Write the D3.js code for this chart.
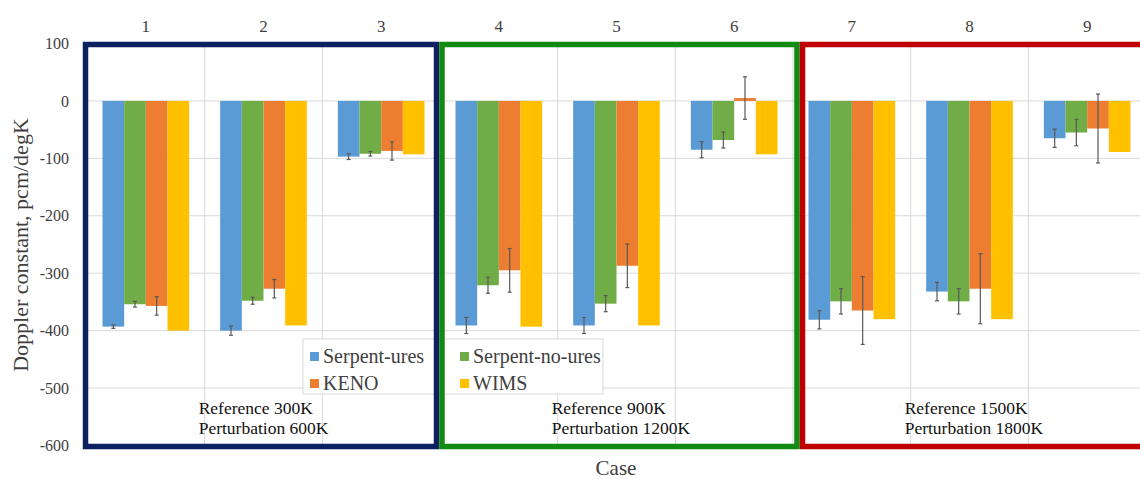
<!doctype html>
<html>
  <head>
    <meta charset="utf-8">
    <script src="https://d3js.org/d3.v7.min.js"></script>
    <style>
      body { margin: 0; background: #fff; }
      svg text { font-family: "Liberation Serif", "Times New Roman", serif !important; }
    </style>
  </head>
  <body>
    <div id="graphic"></div>
    <script>

// data
var cases = ["1", "2", "3", "4", "5", "6", "7", "8", "9"];
var seriesNames = ["Serpent-ures", "Serpent-no-ures", "KENO", "WIMS"];
var serpentUres   = [-393, -400, -97, -391, -391, -85, -381, -332, -65];
var serpentNoUres = [-354, -348, -92, -321, -353, -68, -349, -349, -55];
var keno          = [-357, -327, -87, -295, -287,   5, -365, -327, -48];
var wims          = [-400, -391, -93, -393, -391, -93, -380, -380, -89];
var errSerpentUres   = [3, 8, 5, 14, 14, 14, 16, 16, 16];
var errSerpentNoUres = [5, 6, 4, 14, 14, 14, 22, 22, 23];
var errKeno          = [16, 16, 16, 38, 38, 37, 59, 61, 60];
var yTicks = [100, 0, -100, -200, -300, -400, -500, -600];
var groupCases = [["1", "3"], ["4", "6"], ["7", "9"]];
var groupLabels = [
  ["Reference 300K", "Perturbation 600K"],
  ["Reference 900K", "Perturbation 1200K"],
  ["Reference 1500K", "Perturbation 1800K"]
];

var colors = ["#5b9bd5", "#70ad47", "#ed7d31", "#ffc000"];
var boxColors = ["#0c2260", "#108a10", "#c00000"];
var serif = "'Liberation Serif', 'Times New Roman', serif";

var values = [serpentUres, serpentNoUres, keno, wims];
var errors = [errSerpentUres, errSerpentNoUres, errKeno, null];

var rows = [];
cases.forEach(function (c, i) {
  seriesNames.forEach(function (s, j) {
    rows.push({ c: c, s: s, v: values[j][i], e: errors[j] ? errors[j][i] : null, k: j });
  });
});

var width = 1140, height = 479;

var svg = d3.select("#graphic").append("svg")
  .attr("width", width)
  .attr("height", height)
  .attr("font-family", serif);

var x0 = d3.scaleBand().domain(cases).range([87, 1146]);
var bw = x0.bandwidth();
var x1 = d3.scaleBand().domain(seriesNames).range([15.5, bw - 15.5]);
var y = d3.scaleLinear().domain([-600, 100]).range([445.5, 43.5]);

// gridlines
svg.append("g")
  .selectAll("line")
  .data(yTicks)
  .enter().append("line")
  .attr("x1", 87).attr("x2", 1146)
  .attr("y1", d => y(d)).attr("y2", d => y(d))
  .style("stroke", "#d9d9d9").style("stroke-width", "1px");

svg.append("g")
  .selectAll("line")
  .data(cases.slice(1))
  .enter().append("line")
  .attr("x1", d => x0(d)).attr("x2", d => x0(d))
  .attr("y1", y(100)).attr("y2", y(-600))
  .style("stroke", "#d9d9d9").style("stroke-width", "1px");

// bars
svg.append("g")
  .selectAll("rect")
  .data(rows)
  .enter().append("rect")
  .attr("x", d => x0(d.c) + x1(d.s))
  .attr("width", x1.bandwidth())
  .attr("y", d => y(Math.max(0, d.v)))
  .attr("height", d => Math.abs(y(d.v) - y(0)))
  .style("fill", d => colors[d.k]);

// error bars
var eb = svg.append("g")
  .selectAll("g")
  .data(rows.filter(d => d.e != null))
  .enter().append("g")
  .attr("transform", d => "translate(" + (x0(d.c) + x1(d.s) + x1.bandwidth() / 2) + ",0)");

eb.append("line")
  .attr("y1", d => y(d.v + d.e)).attr("y2", d => y(d.v - d.e))
  .style("stroke", "#595959").style("stroke-width", "1.2px");
eb.append("line")
  .attr("x1", -2).attr("x2", 2)
  .attr("y1", d => y(d.v + d.e)).attr("y2", d => y(d.v + d.e))
  .style("stroke", "#595959").style("stroke-width", "1.2px");
eb.append("line")
  .attr("x1", -2).attr("x2", 2)
  .attr("y1", d => y(d.v - d.e)).attr("y2", d => y(d.v - d.e))
  .style("stroke", "#595959").style("stroke-width", "1.2px");

// y axis
var yAxis = d3.axisLeft(y).tickValues(yTicks).tickFormat(d => String(d)).tickSize(0).tickPadding(18);
var ya = svg.append("g").attr("transform", "translate(87,0)").call(yAxis);
ya.attr("font-family", serif);
ya.select(".domain").remove();
ya.selectAll("text")
  .style("font-size", "16px")
  .style("fill", "#404040");

// top category labels
var xAxis = d3.axisTop(x0).tickSize(0).tickPadding(12);
var xa = svg.append("g").attr("transform", "translate(0," + y(100) + ")").call(xAxis);
xa.attr("font-family", serif);
xa.select(".domain").remove();
xa.selectAll("text")
  .style("font-size", "17px")
  .style("fill", "#404040");

// legend
var legend = svg.append("g").attr("transform", "translate(303,339)");
legend.append("rect")
  .attr("width", 300).attr("height", 55)
  .style("fill", "#fff").style("stroke", "#d9d9d9");
var li = legend.selectAll("g")
  .data(seriesNames)
  .enter().append("g")
  .attr("transform", function (d, i) {
    return "translate(" + (7 + (i % 2) * 150) + "," + (9 + Math.floor(i / 2) * 27) + ")";
  });
li.append("rect")
  .attr("width", 9).attr("height", 9).attr("y", 4)
  .style("fill", (d, i) => colors[i]);
li.append("text")
  .attr("x", 13).attr("y", 15)
  .style("font-size", "20px")
  .style("fill", "#404040")
  .text(d => d);

// group boxes
var boxOffsets = [[-1.5, -3.5], [2, 4], [9.5, 10]];
groupCases.forEach(function (g, i) {
  var left = x0(g[0]) + boxOffsets[i][0];
  var right = x0(g[1]) + bw + boxOffsets[i][1];
  svg.append("rect")
    .attr("x", left).attr("y", y(100) + 1)
    .attr("width", right - left)
    .attr("height", y(-600) - y(100))
    .style("fill", "none")
    .style("stroke", boxColors[i])
    .style("stroke-width", "5.5px");

  var mid = cases[cases.indexOf(g[0]) + 1];
  var tx = x0(mid) - 6;
  var t = svg.append("text")
    .attr("x", tx)
    .attr("y", 414)
    .style("font-size", "17.5px")
    .style("fill", "#111");
  t.selectAll("tspan")
    .data(groupLabels[i])
    .enter().append("tspan")
    .attr("x", tx)
    .attr("dy", (d, k) => k == 0 ? 0 : 19.5)
    .text(d => d);
});

// axis titles
svg.append("text")
  .attr("text-anchor", "middle")
  .attr("transform", "translate(28," + 245 + ")rotate(-90)")
  .style("font-size", "22px")
  .style("fill", "#404040")
  .text("Doppler constant, pcm/degK");

svg.append("text")
  .attr("x", 616).attr("y", 475)
  .attr("text-anchor", "middle")
  .style("font-size", "21px")
  .style("fill", "#404040")
  .text("Case");

    </script>
  </body>
</html>
